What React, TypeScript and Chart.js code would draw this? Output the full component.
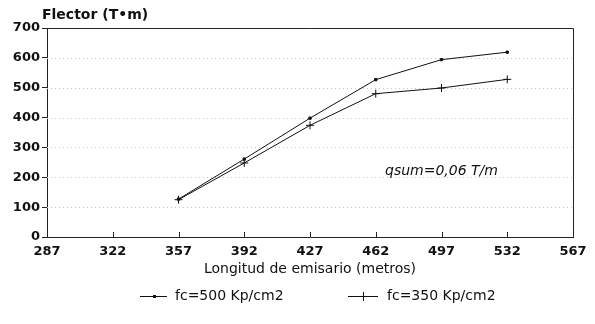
import React, { useEffect, useRef } from "react";
import { Chart, registerables } from "chart.js";

Chart.register(...registerables);

const xValues = [357, 392, 427, 462, 497, 532];
const fc500 = [127, 261, 398, 527, 594, 619];
const fc350 = [125, 248, 374, 480, 499, 528];
const xTicks = [287, 322, 357, 392, 427, 462, 497, 532, 567];
const yTicks = [0, 100, 200, 300, 400, 500, 600, 700];
const seriesLabels = ["fc=500 Kp/cm2", "fc=350 Kp/cm2"];
const yTitle = "Flector (T•m)";
const xTitle = "Longitud de emisario (metros)";
const note = "qsum=0,06 T/m";

const FONT = "'DejaVu Sans', sans-serif";

const decorPlugin = {
  id: "decor",
  beforeDatasetsDraw(chart: any) {
    const { ctx, chartArea, scales } = chart;
    ctx.save();
    ctx.strokeStyle = "#c4c4c4";
    ctx.lineWidth = 1;
    ctx.setLineDash([1, 3]);
    for (const v of yTicks) {
      if (v === 0 || v === 700) continue;
      const y = Math.round(scales.y.getPixelForValue(v)) + 0.5;
      ctx.beginPath();
      ctx.moveTo(chartArea.left, y);
      ctx.lineTo(chartArea.right, y);
      ctx.stroke();
    }
    ctx.restore();
  },
  afterDraw(chart: any) {
    const { ctx, chartArea, scales } = chart;
    ctx.save();
    ctx.strokeStyle = "#222";
    ctx.lineWidth = 1;
    ctx.beginPath();
    ctx.moveTo(chartArea.left, chartArea.top + 0.5);
    ctx.lineTo(chartArea.right + 0.5, chartArea.top + 0.5);
    ctx.lineTo(chartArea.right + 0.5, chartArea.bottom);
    ctx.stroke();
    for (const v of xTicks) {
      const x = Math.round(scales.x.getPixelForValue(v)) + 0.5;
      ctx.beginPath();
      ctx.moveTo(x, chartArea.bottom);
      ctx.lineTo(x, chartArea.bottom - 5);
      ctx.stroke();
    }
    ctx.fillStyle = "#111";
    ctx.font = `bold 14px ${FONT}`;
    ctx.textAlign = "left";
    ctx.textBaseline = "middle";
    ctx.fillText(yTitle, 42, 15);
    ctx.font = `italic 14px ${FONT}`;
    ctx.fillText(note, 385, 171);
    const ly = 296;
    ctx.font = `14px ${FONT}`;
    const items = [
      { x0: 140, x1: 167, tx: 175, style: "dot", label: seriesLabels[0] },
      { x0: 348, x1: 378, tx: 387, style: "cross", label: seriesLabels[1] },
    ];
    for (const it of items) {
      ctx.strokeStyle = "#111";
      ctx.lineWidth = 1;
      ctx.beginPath();
      ctx.moveTo(it.x0, ly + 0.5);
      ctx.lineTo(it.x1, ly + 0.5);
      ctx.stroke();
      const cx = Math.round((it.x0 + it.x1) / 2);
      if (it.style === "dot") {
        ctx.fillStyle = "#111";
        ctx.fillRect(cx - 1, ly - 1, 3, 3);
      } else {
        ctx.beginPath();
        ctx.moveTo(cx + 0.5, ly - 4);
        ctx.lineTo(cx + 0.5, ly + 5);
        ctx.stroke();
      }
      ctx.fillStyle = "#111";
      ctx.fillText(it.label, it.tx, ly);
    }
    ctx.restore();
  },
};

export default function App() {
  const ref = useRef<HTMLCanvasElement>(null);
  useEffect(() => {
    document.body.style.margin = "0";
    const canvas = ref.current!;
    const chart = new Chart(canvas, {
      type: "line",
      data: {
        datasets: [
          {
            label: seriesLabels[0],
            data: xValues.map((x, i) => ({ x, y: fc500[i] })),
            borderColor: "#111",
            backgroundColor: "#111",
            borderWidth: 1,
            pointStyle: "rect",
            pointRadius: 1.6,
            pointBorderWidth: 1,
            tension: 0,
          },
          {
            label: seriesLabels[1],
            data: xValues.map((x, i) => ({ x, y: fc350[i] })),
            borderColor: "#111",
            backgroundColor: "#111",
            borderWidth: 1,
            pointStyle: "cross",
            pointRadius: 4,
            pointBorderWidth: 1,
            tension: 0,
          },
        ],
      },
      options: {
        animation: false,
        responsive: false,
        events: [],
        layout: { padding: { top: 28, right: 22, left: 0, bottom: 46 } },
        plugins: { legend: { display: false }, tooltip: { enabled: false } },
        scales: {
          x: {
            type: "linear",
            min: 287,
            max: 567,
            afterBuildTicks: (s: any) => {
              s.ticks = xTicks.map((v) => ({ value: v }));
            },
            afterFit: (s: any) => {
              s.height = 41;
            },
            grid: { display: false, drawTicks: false },
            border: { display: true, color: "#222", width: 1 },
            ticks: {
              color: "#111",
              padding: 7,
              maxRotation: 0,
              autoSkip: false,
              font: { family: FONT, size: 13, weight: "bold" },
            },
            title: {
              display: true,
              text: xTitle,
              color: "#111",
              padding: { top: 0, bottom: 0 },
              font: { family: FONT, size: 14 },
            },
          },
          y: {
            type: "linear",
            min: 0,
            max: 700,
            afterBuildTicks: (s: any) => {
              s.ticks = yTicks.map((v) => ({ value: v }));
            },
            afterFit: (s: any) => {
              s.width = 47;
            },
            grid: {
              display: true,
              drawOnChartArea: false,
              drawTicks: true,
              tickLength: 5,
              tickColor: "#222",
            },
            border: { display: true, color: "#222", width: 1 },
            ticks: {
              color: "#111",
              padding: 2,
              font: { family: FONT, size: 13, weight: "bold" },
            },
          },
        },
      },
      plugins: [decorPlugin],
    });
    return () => chart.destroy();
  }, []);
  return (
    <div style={{ width: 595, height: 324 }}>
      <canvas ref={ref} width={595} height={324} style={{ display: "block" }} />
    </div>
  );
}
